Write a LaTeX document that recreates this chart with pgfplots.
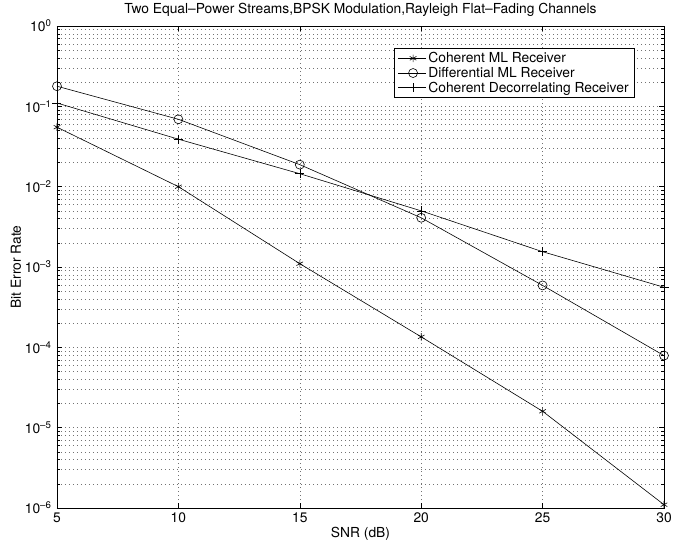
\documentclass[border=0pt]{standalone}
\usepackage{fontspec}
\setmainfont{TeX Gyre Heros}
\usepackage{pgfplots}
\pgfplotsset{compat=1.18}
\newcommand{\fs}{\fontsize{13.8}{16}\selectfont}
\begin{document}
\begin{tikzpicture}
\useasboundingbox (-57pt,-36pt) rectangle (616pt,508pt);
\begin{axis}[
  at={(0,0)}, anchor=south west,
  scale only axis, width=607pt, height=482pt,
  xmin=5, xmax=30, ymode=log, ymin=1e-6, ymax=1,
  xtick={5,10,15,20,25,30},
  ytick={1e-6,1e-5,1e-4,1e-3,1e-2,1e-1,1},
  yticklabels={10\textsuperscript{–6},10\textsuperscript{–5},10\textsuperscript{–4},10\textsuperscript{–3},10\textsuperscript{–2},10\textsuperscript{–1},10\textsuperscript{0}},
  minor ytick={2e-6,3e-6,4e-6,5e-6,6e-6,7e-6,8e-6,9e-6,
               2e-5,3e-5,4e-5,5e-5,6e-5,7e-5,8e-5,9e-5,
               2e-4,3e-4,4e-4,5e-4,6e-4,7e-4,8e-4,9e-4,
               2e-3,3e-3,4e-3,5e-3,6e-3,7e-3,8e-3,9e-3,
               2e-2,3e-2,4e-2,5e-2,6e-2,7e-2,8e-2,9e-2,
               2e-1,3e-1,4e-1,5e-1,6e-1,7e-1,8e-1,9e-1},
  xmajorgrids, ymajorgrids, yminorgrids,
  major grid style={black!55, dash pattern=on 0.6pt off 3.4pt, line width=0.5pt},
  minor grid style={black!55, dash pattern=on 0.6pt off 3.4pt, line width=0.5pt},
  tick align=inside, xtick pos=both, ytick pos=both,
  major tick length=5pt, minor tick length=3pt,
  every tick/.style={black, line width=0.5pt},
  axis line style={line width=0.6pt},
  /pgf/number format/assume math mode=true,
  tick label style={font=\fs},
  yticklabel style={xshift=-2pt},
  xticklabel style={yshift=-1pt},
  title={Two Equal–Power Streams,BPSK Modulation,Rayleigh Flat–Fading Channels},
  title style={font=\fs, at={(0.5,1)}, anchor=south, yshift=0pt},
  xlabel={SNR (dB)},
  xlabel style={font=\fs, at={(axis description cs:0.5,0)}, anchor=center, yshift=-26pt},
  ylabel={Bit Error Rate},
  ylabel style={font=\fs, at={(axis description cs:0,0.5)}, anchor=center, yshift=41pt},
  clip=false,
  legend style={at={(0.952,0.954)}, anchor=north east, draw=black, fill=white,
    font=\fs, cells={anchor=west}, row sep=-1pt, inner xsep=4pt, inner ysep=2pt,
    line width=0.5pt},
  legend image code/.code={\path (0pt,0pt) -- (28pt,0pt); \draw[#1] plot coordinates {(15pt,0pt)};},
]
\addplot[black, line width=0.6pt, mark=asterisk, mark size=3.8pt, forget plot]
  coordinates {(5,0.055)(10,0.0100)(15,0.0011)(20,1.35e-4)(25,1.6e-5)(30,1.1e-6)};
\addplot[black, line width=0.6pt, mark=o, mark size=4.5pt, forget plot]
  coordinates {(5,0.178)(10,0.069)(15,0.0188)(20,0.0041)(25,5.9e-4)(30,7.9e-5)};
\addplot[black, line width=0.6pt, mark=+, mark size=4.5pt, forget plot]
  coordinates {(5,0.11)(10,0.039)(15,0.0145)(20,0.005)(25,1.55e-3)(30,5.6e-4)};
\addlegendimage{only marks, black, mark=asterisk, mark size=3.8pt, line width=0.6pt}
\addlegendentry{Coherent ML Receiver}
\addlegendimage{only marks, black, mark=o, mark size=4.5pt, line width=0.6pt}
\addlegendentry{Differential ML Receiver}
\addlegendimage{only marks, black, mark=+, mark size=4.5pt, line width=0.6pt}
\addlegendentry{Coherent Decorrelating Receiver}
\end{axis}
\end{tikzpicture}
\end{document}
